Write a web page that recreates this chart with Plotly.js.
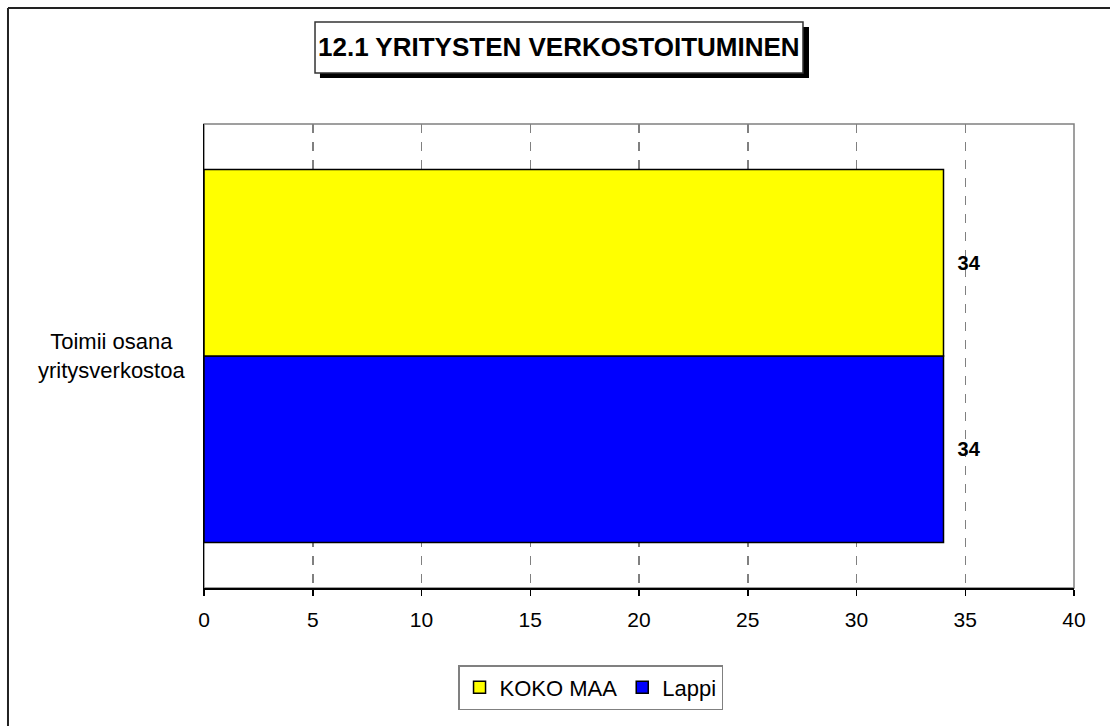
<!DOCTYPE html>
<html>
<head>
<meta charset="utf-8">
<script src="https://cdn.plot.ly/plotly-3.0.1.min.js"></script>
<style>
  html, body { margin: 0; padding: 0; background: #fff; }
  #chart { width: 1110px; height: 726px; }
</style>
</head>
<body>
<div id="chart"></div>
<script>
const chartTitle = '12.1 YRITYSTEN VERKOSTOITUMINEN';
const categories = ['Toimii osana<br>yritysverkostoa'];
const seriesNames = ['KOKO MAA', 'Lappi'];
const kokoMaa = [34];
const lappi = [34];
const xTicks = [0, 5, 10, 15, 20, 25, 30, 35, 40];

const FONT = 'Liberation Sans, Arial, Helvetica, sans-serif';

const common = {
  type: 'bar',
  orientation: 'h',
  y: categories,
  textposition: 'outside',
  texttemplate: '\u00A0\u00A0%{x}',
  textfont: { family: FONT, size: 20, color: '#000', weight: 'bold' },
  cliponaxis: false,
  hoverinfo: 'skip'
};

const traces = [
  Object.assign({}, common, {
    name: seriesNames[1], x: lappi, legendrank: 2,
    marker: { color: '#0000FF', line: { color: '#000', width: 1.5 } }
  }),
  Object.assign({}, common, {
    name: seriesNames[0], x: kokoMaa, legendrank: 1,
    marker: { color: '#FFFF00', line: { color: '#000', width: 1.5 } }
  })
];

const layout = {
  width: 1110, height: 726,
  margin: { l: 204, r: 36, t: 124, b: 138 },
  paper_bgcolor: '#fff', plot_bgcolor: '#fff',
  font: { family: FONT, size: 21, color: '#000' },
  barmode: 'group', bargap: 0.196, bargroupgap: 0,
  showlegend: true,
  xaxis: {
    range: [0, 40], tickvals: xTicks, ticktext: xTicks.map(String),
    showgrid: true, gridcolor: '#808080', gridwidth: 1.5, griddash: 'dash',
    showline: true, linecolor: '#000', linewidth: 1.5,
    ticks: 'outside', ticklen: 6, tickcolor: '#000', tickwidth: 1.5,
    ticklabelstandoff: 6,
    tickfont: { family: FONT, size: 21, color: '#000' },
    zeroline: false, fixedrange: true
  },
  yaxis: {
    showticklabels: false, showgrid: false, zeroline: false,
    showline: true, linecolor: '#000', linewidth: 1.5,
    fixedrange: true
  },
  legend: {
    orientation: 'h', x: 0.292, y: -0.166, xanchor: 'left', yanchor: 'top',
    bordercolor: '#808080', borderwidth: 1.5, bgcolor: '#fff',
    font: { family: FONT, size: 22, color: '#000' },
    itemwidth: 30
  },
  shapes: [
    { type: 'rect', xref: 'paper', yref: 'paper', x0: 0, x1: 1, y0: 0, y1: 1,
      line: { color: '#808080', width: 1.5 }, layer: 'below' },
    { type: 'rect', xref: 'paper', yref: 'paper', x0: 0.1333, x1: 0.6954, y0: 1.0991, y1: 1.2091,
      fillcolor: '#000', line: { color: '#000', width: 0 }, layer: 'above' },
    { type: 'rect', xref: 'paper', yref: 'paper', x0: 0.1276, x1: 0.6885, y0: 1.1099, y1: 1.2198,
      fillcolor: '#fff', line: { color: '#333', width: 1.5 }, layer: 'above' },
    { type: 'line', xref: 'paper', yref: 'paper', x0: -0.2253, x1: -0.2253, y0: -0.4, y1: 1.25,
      line: { color: '#222', width: 2 }, layer: 'above' },
    { type: 'line', xref: 'paper', yref: 'paper', x0: -0.2253, x1: 1.1, y0: 1.25, y1: 1.25,
      line: { color: '#222', width: 2 }, layer: 'above' }
  ],
  annotations: [
    {
      text: '<b>' + chartTitle + '</b>', xref: 'paper', yref: 'paper',
      x: 0.408, y: 1.166, xanchor: 'center', yanchor: 'middle',
      showarrow: false, font: { family: FONT, size: 26, color: '#000' }
    }
  ].concat(categories.map(c => ({
    text: c, xref: 'paper', yref: 'y', x: 0, y: c,
    xanchor: 'right', yanchor: 'middle', xshift: -17, align: 'center',
    showarrow: false, font: { family: FONT, size: 22, color: '#000' }
  })))
};

Plotly.newPlot('chart', traces, layout, { displayModeBar: false, staticPlot: true });
</script>
</body>
</html>
